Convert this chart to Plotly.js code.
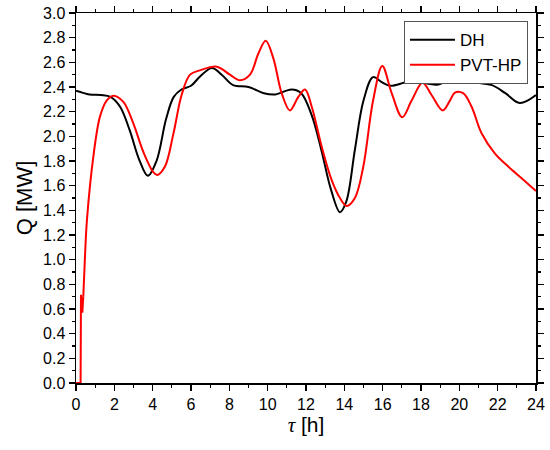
<!DOCTYPE html>
<html>
<head>
<meta charset="utf-8">
<script src="https://cdn.plot.ly/plotly-3.0.1.min.js"></script>
<style>html,body{margin:0;padding:0;background:#fff;}#chart{width:550px;height:450px;}</style>
</head>
<body>
<div id="chart"></div>
<script>
// DH series
const dhX = [0,0.7,1.3,1.8,2.3,2.8,3.3,3.75,4.2,4.7,5.1,5.5,6.0,6.5,7.1,7.6,8.2,9.0,9.8,10.4,11.25,11.75,12.3,12.8,13.3,13.77,14.1,14.55,15.0,15.5,15.95,16.4,17.3,18.0,18.9,19.95,20.8,21.7,22.4,23.15,24.0];
const dhY = [2.37,2.34,2.335,2.32,2.24,2.05,1.81,1.68,1.80,2.14,2.32,2.38,2.41,2.49,2.555,2.50,2.415,2.40,2.35,2.34,2.38,2.35,2.17,1.89,1.57,1.385,1.47,1.89,2.29,2.48,2.44,2.41,2.44,2.435,2.42,2.495,2.44,2.415,2.35,2.27,2.335];
// PVT-HP series: start-up segment (linear) and main run (smooth)
const pvtStartX = [0,0.24,0.26,0.33,0.38];
const pvtStartY = [0,0,0.715,0.57,0.70];
const pvtX = [0.38,0.47,0.57,0.9,1.25,1.6,1.95,2.47,2.99,3.51,4.03,4.24,4.64,5.08,5.51,5.95,6.47,7.34,8.03,8.55,9.08,9.51,9.9,10.3,10.73,11.16,11.6,11.95,12.3,12.82,13.34,13.77,14.12,14.55,14.99,15.5,15.98,16.47,17.02,17.51,18.08,18.55,19.13,19.51,19.77,20.2,20.64,21.16,21.86,22.55,23.25,24.0];
const pvtY = [0.70,1.03,1.32,1.83,2.16,2.29,2.33,2.28,2.105,1.875,1.71,1.687,1.755,2.02,2.335,2.50,2.535,2.565,2.50,2.455,2.50,2.67,2.775,2.63,2.35,2.21,2.32,2.38,2.24,1.915,1.645,1.50,1.435,1.50,1.755,2.29,2.57,2.35,2.155,2.29,2.435,2.335,2.21,2.29,2.355,2.35,2.24,2.025,1.86,1.755,1.66,1.557];
const seriesNames = ['DH','PVT-HP'];
const seriesColors = ['#000000','#ff0000'];
const xTickVals = [0,2,4,6,8,10,12,14,16,18,20,22,24];
const yTickVals = [0,0.2,0.4,0.6,0.8,1.0,1.2,1.4,1.6,1.8,2.0,2.2,2.4,2.6,2.8,3.0];
const xRange = [0,24];
const yRange = [0,3.0];

const traces = [
  {x: dhX, y: dhY, name: seriesNames[0], type:'scatter', mode:'lines',
   line:{color:seriesColors[0], width:2, shape:'spline', smoothing:1}},
  {x: pvtStartX, y: pvtStartY, name: seriesNames[1], type:'scatter', mode:'lines',
   showlegend:false,
   line:{color:seriesColors[1], width:2, shape:'linear'}},
  {x: pvtX, y: pvtY, name: seriesNames[1], type:'scatter', mode:'lines',
   line:{color:seriesColors[1], width:2, shape:'spline', smoothing:1}}
];

const fontFam = 'Liberation Sans, Arial, sans-serif';
const layout = {
  width:550, height:450,
  margin:{l:76, r:14, t:13, b:67},
  paper_bgcolor:'#fff', plot_bgcolor:'#fff',
  showlegend:true,
  legend:{x:0.713, y:0.978, xanchor:'left', yanchor:'top',
    bgcolor:'#fff', bordercolor:'#555', borderwidth:1,
    font:{family:fontFam, size:17, color:'#000'}, itemwidth:45, tracegroupgap:0},
  xaxis:{range:xRange, tickvals:xTickVals, ticktext:xTickVals.map(String),
    showgrid:false, zeroline:false, showline:true, mirror:'ticks', linecolor:'#000', linewidth:1.5,
    ticks:'outside', ticklen:6, tickwidth:1.5, tickcolor:'#000',
    minor:{dtick:1, tick0:0, ticks:'outside', ticklen:3, tickwidth:1.2, tickcolor:'#000'},
    tickfont:{family:fontFam, size:16, color:'#000'},
    title:{text:'<i style="font-family:Liberation Serif">τ</i> [h]', font:{family:fontFam, size:21, color:'#000'}, standoff:4}},
  yaxis:{range:yRange, tickvals:yTickVals, ticktext:yTickVals.map(v=>v.toFixed(1)),
    showgrid:false, zeroline:false, showline:true, mirror:'ticks', linecolor:'#000', linewidth:1.5,
    ticks:'outside', ticklen:6, tickwidth:1.5, tickcolor:'#000',
    minor:{dtick:0.1, tick0:0, ticks:'outside', ticklen:3, tickwidth:1.2, tickcolor:'#000'},
    tickfont:{family:fontFam, size:16, color:'#000'},
    title:{text:'Q [MW]', font:{family:fontFam, size:22, color:'#000'}, standoff:4}}
};

Plotly.newPlot('chart', traces, layout, {displayModeBar:false, staticPlot:true});
</script>
</body>
</html>
